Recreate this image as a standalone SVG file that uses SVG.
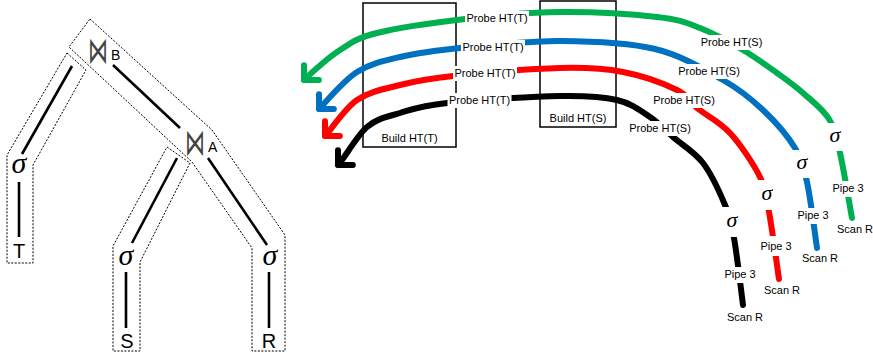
<svg xmlns="http://www.w3.org/2000/svg" width="873" height="353" viewBox="0 0 873 353">
<style>
.edge{stroke:#000;stroke-width:2.6;fill:none}
.band{fill:none;stroke:#000;stroke-width:1;stroke-dasharray:2 1.5}
.box{fill:none;stroke:#000;stroke-width:1.5}
.lbl{font-family:"Liberation Sans",Arial,sans-serif;font-size:11px;text-anchor:middle;fill:#000}
.bg{fill:#fff}
.sig{font-family:"Liberation Serif","Times New Roman",serif;font-style:italic;text-anchor:middle;fill:#000}
.leaf{font-family:"Liberation Sans",Arial,sans-serif;font-size:20px;text-anchor:middle;fill:#000}
.join{font-family:"DejaVu Sans",sans-serif;font-size:20px;fill:#444}
.sub{font-family:"Liberation Sans",Arial,sans-serif;font-size:14px;fill:#000}
.flow{fill:none;stroke-width:6;stroke-linecap:round;stroke-linejoin:round}
.g{stroke:#00B050}.b{stroke:#0070C0}.r{stroke:#FF0000}.k{stroke:#000}
</style>
<defs>
<marker id="arrG" viewBox="-14 -14 18 28" refX="0" refY="0" markerWidth="18" markerHeight="28" markerUnits="userSpaceOnUse" orient="auto" overflow="visible"><path d="M-10.5,-10.5 L0,0 L-10.5,10.5" class="flow g"/></marker>
<marker id="arrB" viewBox="-14 -14 18 28" refX="0" refY="0" markerWidth="18" markerHeight="28" markerUnits="userSpaceOnUse" orient="auto" overflow="visible"><path d="M-10.5,-10.5 L0,0 L-10.5,10.5" class="flow b"/></marker>
<marker id="arrR" viewBox="-14 -14 18 28" refX="0" refY="0" markerWidth="18" markerHeight="28" markerUnits="userSpaceOnUse" orient="auto" overflow="visible"><path d="M-10.5,-10.5 L0,0 L-10.5,10.5" class="flow r"/></marker>
<marker id="arrK" viewBox="-14 -14 18 28" refX="0" refY="0" markerWidth="18" markerHeight="28" markerUnits="userSpaceOnUse" orient="auto" overflow="visible"><path d="M-10.5,-10.5 L0,0 L-10.5,10.5" class="flow k"/></marker>
</defs>
<rect width="873" height="353" fill="#fff"/>

<!-- Plan tree: pipeline bands -->
<g id="pipelines">
<polygon id="band-BAR" class="band" points="90,19 212,130 285,235 285,351 252,351 252,248 192,162 69,47"/>
<polygon id="band-T" class="band" points="67,53 86,70 33,165 33,263 7,263 7,155"/>
<polygon id="band-S" class="band" points="167,147 190,163 140,262 140,351 113,351 113,246"/>
</g>

<g id="tree-edges">
<line class="edge" x1="72" y1="66" x2="22" y2="154"/>
<line class="edge" x1="113" y1="65" x2="180" y2="128"/>
<line class="edge" x1="177" y1="158" x2="132" y2="243"/>
<line class="edge" x1="208" y1="158" x2="267" y2="245"/>
<line class="edge" x1="19" y1="182" x2="19" y2="237"/>
<line class="edge" x1="126" y1="272" x2="126" y2="328"/>
<line class="edge" x1="269" y1="272" x2="269" y2="328"/>
</g>

<g id="join-B"><text class="join" transform="translate(88,63) scale(1,1.85)">⋈</text><text class="sub" x="111" y="60">B</text></g>
<g id="join-A"><text class="join" transform="translate(185,155) scale(1,1.85)">⋈</text><text class="sub" x="208" y="152">A</text></g>
<g id="select-T"><text class="sig" x="19" y="173" font-size="30">σ</text></g>
<g id="select-S"><text class="sig" x="126" y="265" font-size="30">σ</text></g>
<g id="select-R"><text class="sig" x="270" y="265" font-size="30">σ</text></g>
<g id="scan-T"><text class="leaf" x="19" y="258">T</text></g>
<g id="scan-S"><text class="leaf" x="127" y="348">S</text></g>
<g id="scan-R"><text class="leaf" x="269" y="348">R</text></g>

<!-- Build boxes -->
<g id="build-T"><rect class="box" x="363" y="3" width="93" height="144"/><text class="lbl" x="409.5" y="142">Build HT(T)</text></g>
<g id="build-S"><rect class="box" x="540" y="1" width="76" height="126"/><text class="lbl" x="578" y="122">Build HT(S)</text></g>

<!-- Pipeline flows -->
<g id="flows">
<path class="flow g" marker-end="url(#arrG)" d="M852,218 C850,207.2 843.8,169.5 840,153 C836.2,136.5 835.2,129 829,119 C822.8,109 811.7,100.7 803,93 C794.3,85.3 787,80.2 777,73 C767,65.8 755.8,57.5 743,50 C730.2,42.5 714.3,33.5 700,28 C685.7,22.5 680.3,19.7 657,17 C633.7,14.3 592,11.7 560,12 C528,12.3 495.5,15.5 465,19 C434.5,22.5 397.8,27.8 377,33 C356.2,38.2 352.2,42.2 340,50 C327.8,57.8 310,74 304,80"/>
<path class="flow b" marker-end="url(#arrB)" d="M817,248 C815.3,237 810.7,198.7 807,182 C803.3,165.3 802.3,160 795,148 C787.7,136 775,121.3 763,110 C751,98.7 741,90.2 723,80 C705,69.8 682.2,55.5 655,49 C627.8,42.5 592.5,41.2 560,41 C527.5,40.8 486.7,45.3 460,48 C433.3,50.7 417.2,53 400,57 C382.8,61 370.3,63.7 357,72 C343.7,80.3 325,103 319,109"/>
<path class="flow r" marker-end="url(#arrR)" d="M779,279 C777.3,267.8 772.2,229 769,212 C765.8,195 766.5,190.2 760,177 C753.5,163.8 740.5,144.5 730,133 C719.5,121.5 705.8,115.2 697,108 C688.2,100.8 689.3,96 677,90 C664.7,84 642.5,75.7 623,72 C603.5,68.3 588.3,67.3 560,68 C531.7,68.7 479.7,73.2 453,76 C426.3,78.8 416,81 400,85 C384,89 369.5,91.5 357,100 C344.5,108.5 331,130 325,136"/>
<path class="flow k" marker-end="url(#arrK)" d="M743,305 C741.5,293.8 737,254.7 734,238 C731,221.3 730.2,217.5 725,205 C719.8,192.5 711.7,174.3 703,163 C694.3,151.7 681.8,144.7 673,137 C664.2,129.3 659.3,123.2 650,117 C640.7,110.8 632,103.5 617,100 C602,96.5 588.3,95.5 560,96 C531.7,96.5 473.7,100.2 447,103 C420.3,105.8 413.3,109 400,113 C386.7,117 377.2,118.3 367,127 C356.8,135.7 344,159 338,165"/>
</g>

<!-- Labels on flows -->
<g id="probeT-green"><rect class="bg" x="465" y="11" width="64" height="15"/><text class="lbl" x="497" y="22">Probe HT(T)</text></g>
<g id="probeT-blue"><rect class="bg" x="461" y="40" width="64" height="15"/><text class="lbl" x="493" y="51">Probe HT(T)</text></g>
<g id="probeT-red"><rect class="bg" x="453" y="66" width="64" height="15"/><text class="lbl" x="485" y="77">Probe HT(T)</text></g>
<g id="probeT-black"><rect class="bg" x="447.5" y="93" width="64" height="15"/><text class="lbl" x="479.5" y="104">Probe HT(T)</text></g>

<g id="probeS-green"><rect class="bg" x="699" y="35" width="65" height="15"/><text class="lbl" x="731.5" y="46">Probe HT(S)</text></g>
<g id="probeS-blue"><rect class="bg" x="676.5" y="64" width="65" height="15"/><text class="lbl" x="709" y="75">Probe HT(S)</text></g>
<g id="probeS-red"><rect class="bg" x="651.5" y="93" width="65" height="15"/><text class="lbl" x="684" y="104">Probe HT(S)</text></g>
<g id="probeS-black"><rect class="bg" x="627.5" y="121" width="65" height="15"/><text class="lbl" x="660" y="132">Probe HT(S)</text></g>

<g id="sel-green"><rect class="bg" x="825" y="123" width="20" height="28"/><text class="sig" x="835" y="142" font-size="22">σ</text></g>
<g id="sel-blue"><rect class="bg" x="792" y="150" width="20" height="28"/><text class="sig" x="802" y="169" font-size="22">σ</text></g>
<g id="sel-red"><rect class="bg" x="757" y="180" width="20" height="30"/><text class="sig" x="767" y="200" font-size="22">σ</text></g>
<g id="sel-black"><rect class="bg" x="722" y="207" width="20" height="30"/><text class="sig" x="732" y="227" font-size="22">σ</text></g>

<g id="pipe-green"><rect class="bg" x="831" y="181" width="34" height="16"/><text class="lbl" x="848" y="192">Pipe 3</text></g>
<g id="pipe-blue"><rect class="bg" x="796" y="208" width="34" height="16"/><text class="lbl" x="813" y="219">Pipe 3</text></g>
<g id="pipe-red"><rect class="bg" x="759" y="236" width="34" height="20"/><text class="lbl" x="776" y="250">Pipe 3</text></g>
<g id="pipe-black"><rect class="bg" x="723" y="267" width="34" height="16"/><text class="lbl" x="740" y="278">Pipe 3</text></g>

<g id="scanR-green"><text class="lbl" x="855" y="233">Scan R</text></g>
<g id="scanR-blue"><text class="lbl" x="820" y="262">Scan R</text></g>
<g id="scanR-red"><text class="lbl" x="782" y="294">Scan R</text></g>
<g id="scanR-black"><text class="lbl" x="745" y="321">Scan R</text></g>
</svg>
